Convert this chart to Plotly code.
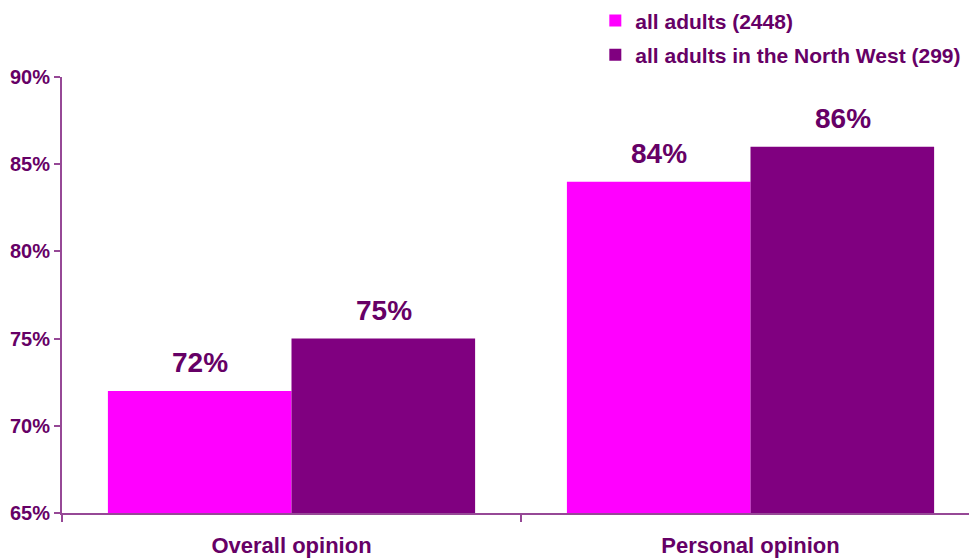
import plotly.graph_objects as go

# Survey results: share of respondents with a favourable opinion
categories = ["Overall opinion", "Personal opinion"]
series_names = ["all adults (2448)", "all adults in the North West (299)"]
all_adults = [72, 84]
north_west = [75, 86]
y_ticks = [65, 70, 75, 80, 85, 90]

bar_colors = ["#FF00FF", "#800080"]
text_color = "#660066"
axis_color = "#964896"
font_family = "Liberation Sans, Arial, sans-serif"

fig = go.Figure()
for name, values, color in zip(series_names, [all_adults, north_west], bar_colors):
    fig.add_trace(go.Bar(
        x=categories, y=values, name=name, marker_color=color,
        marker_line_width=0, legendgroup=name,
    ))

# Value labels centred over each bar of the pair
for offset, values in zip([-92, 92], [all_adults, north_west]):
    for cat, v in zip(categories, values):
        fig.add_annotation(
            x=cat, y=v, text=f"{v}%", showarrow=False,
            xshift=offset, yshift=11, yanchor="bottom",
            font=dict(family=font_family, size=28, color=text_color, weight="bold"),
        )

fig.update_layout(
    width=969, height=558,
    margin=dict(l=62, r=0, t=77, b=45),
    paper_bgcolor="white", plot_bgcolor="white",
    barmode="group", bargap=0.2, bargroupgap=0,
    showlegend=True,
    legend=dict(
        x=0.588, y=1.004, xanchor="left", yanchor="bottom", yref="paper",
        font=dict(family=font_family, size=21, color=text_color, weight="bold"),
        tracegroupgap=4, itemwidth=30, bgcolor="rgba(0,0,0,0)",
    ),
    xaxis=dict(
        range=[-0.5, 1.476], showline=True, linecolor=axis_color, linewidth=2,
        ticks="outside", tickson="boundaries", ticklen=7, tickcolor=axis_color,
        tickwidth=2, ticklabelstandoff=12,
        tickfont=dict(family=font_family, size=22, color=text_color, weight="bold"),
        showgrid=False, zeroline=False,
    ),
    yaxis=dict(
        range=[65, 90], tickvals=y_ticks, ticktext=[f"{t}%" for t in y_ticks],
        showline=True, linecolor=axis_color, linewidth=2,
        ticks="outside", ticklen=6, tickcolor=axis_color, tickwidth=2,
        tickfont=dict(family=font_family, size=20, color=text_color, weight="bold"),
        showgrid=False, zeroline=False,
    ),
)

fig.write_html("out.html")
